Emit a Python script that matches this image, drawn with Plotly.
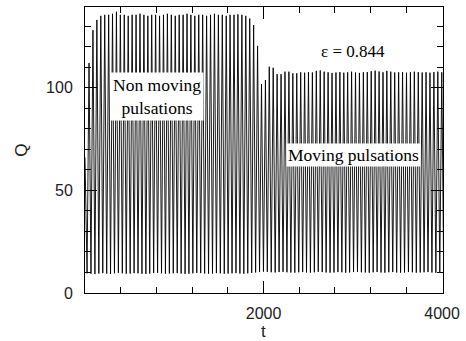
import plotly.graph_objects as go

# Pulse train Q(t): peak times/heights and the minima between pulses
peak_t = [45, 89, 133, 177, 221, 265, 308, 352, 396, 440,
          484, 528, 572, 616, 660, 704, 747, 791, 835, 879,
          923, 967, 1011, 1055, 1099, 1143, 1186, 1230, 1274, 1318,
          1362, 1406, 1450, 1494, 1538, 1582, 1625, 1669, 1713, 1757,
          1801, 1845, 1889, 1933, 1977, 2021, 2064, 2108, 2152, 2196,
          2240, 2284, 2328, 2372, 2416, 2460, 2503, 2547, 2591, 2635,
          2679, 2723, 2767, 2811, 2855, 2899, 2942, 2986, 3030, 3074,
          3118, 3162, 3206, 3250, 3294, 3338, 3381, 3425, 3469, 3513,
          3557, 3601, 3645, 3689, 3733, 3777, 3820, 3864, 3908, 3952,
          3996]
peak_Q = [112, 128, 133, 135, 135.5, 135.5, 136, 137, 135.5, 135.5,
          135, 135.5, 135.5, 136, 135.5, 135, 135.5, 135.5, 135, 135.5,
          136, 135.5, 135, 135.5, 135.5, 136, 135.5, 135, 135.5, 135.5,
          135, 135.5, 136, 135.5, 135.5, 135, 135.5, 135.5, 135.7, 135.5,
          135, 133.7, 130.5, 120.4, 101.8, 103.7, 110.2, 109.7, 106.6, 106.6,
          107.8, 107.8, 107, 107, 107.5, 107.3, 107.6, 107.4, 108.2, 108.4,
          107.8, 107.5, 107.2, 107.4, 107.6, 107.3, 107.5, 107.8, 107.4, 107.2,
          107.5, 107.6, 108.0, 108.3, 107.9, 107.5, 108.2, 107.8, 107.4, 107.5,
          107.6, 107.3, 107.5, 107.8, 107.6, 107.4, 107.5, 107.3, 107.6, 107.8,
          107.5]
trough_t = [23, 67, 111, 155, 199, 243, 286, 330, 374, 418,
            462, 506, 550, 594, 638, 682, 725, 769, 813, 857,
            901, 945, 989, 1033, 1077, 1121, 1164, 1208, 1252, 1296,
            1340, 1384, 1428, 1472, 1516, 1560, 1603, 1647, 1691, 1735,
            1779, 1823, 1867, 1911, 1955, 1999, 2042, 2086, 2130, 2174,
            2218, 2262, 2306, 2350, 2394, 2438, 2481, 2525, 2569, 2613,
            2657, 2701, 2745, 2789, 2833, 2877, 2920, 2964, 3008, 3052,
            3096, 3140, 3184, 3228, 3272, 3316, 3359, 3403, 3447, 3491,
            3535, 3579, 3623, 3667, 3711, 3755, 3798, 3842, 3886, 3930,
            3974, 4018]
trough_Q = [9.6, 9.4, 9.2, 9.5, 9.7, 9.5, 9.3, 9.6, 9.8, 9.6,
            9.4, 9.5, 9.7, 9.6, 9.4, 9.3, 9.5, 9.7, 9.8, 9.6,
            9.4, 9.5, 9.6, 9.7, 9.5, 9.3, 9.4, 9.6, 9.8, 9.7,
            9.5, 9.4, 9.5, 9.7, 9.6, 9.4, 9.5, 9.6, 9.7, 9.5,
            9.4, 9.6, 9.8, 10.0, 10.2, 10.4, 10.3, 10.1, 10.0, 10.2,
            10.3, 10.1, 10.0, 9.9, 10.1, 10.2, 10.0, 9.9, 10.1, 10.3,
            10.2, 10.0, 9.9, 10.0, 10.2, 10.1, 9.9, 10.0, 10.2, 10.3,
            10.1, 10.0, 9.9, 10.1, 10.2, 10.0, 9.9, 10.1, 10.2, 10.0,
            9.9, 10.0, 10.2, 10.1, 9.9, 10.0, 10.1, 10.2, 10.0, 9.9,
            10.1, 10.0]
start_t, start_Q = 0, 66

x_range = [0, 4010]
y_range = [0, 139.3]

# interleave minima and maxima into one polyline
t_vals, q_vals = [start_t], [start_Q]
for i in range(len(peak_t)):
    t_vals += [trough_t[i], peak_t[i]]
    q_vals += [trough_Q[i], peak_Q[i]]
t_vals.append(trough_t[-1])
q_vals.append(trough_Q[-1])

fig = go.Figure()
fig.add_trace(go.Scatter(x=t_vals, y=q_vals, mode="lines",
                         line=dict(color="black", width=0.9), showlegend=False))

sans = "Liberation Sans, Arial, sans-serif"
tick_font = dict(family=sans, size=16, color="#222")
serif = dict(family="Liberation Serif, Times New Roman, serif", size=17.5, color="black")

common = dict(ticks="inside", ticklen=12, tickcolor="black", showline=True, linecolor="black",
              linewidth=1, showgrid=False, zeroline=False, automargin=False)

fig.update_layout(
    width=466, height=341,
    margin=dict(l=85, r=23, t=7, b=48),
    paper_bgcolor="white", plot_bgcolor="white",
    xaxis=dict(range=x_range, tickvals=[0, 2000, 4000], ticktext=["", "2000", "4000"],
               minor=dict(ticks="inside", ticklen=6, dtick=400, tick0=0, tickcolor="black"),
               tickfont=tick_font, ticklabelstandoff=6,
               **common),
    yaxis=dict(range=y_range, tickvals=[0, 50, 100],
               minor=dict(ticks="inside", ticklen=6, dtick=10, tick0=0, tickcolor="black"),
               tickfont=tick_font, ticklabelstandoff=8,
               title=dict(text="Q", font=dict(family=sans, size=17, color="#222"), standoff=14),
               **common),
    # top and right frame with the same inward ticks, no labels
    xaxis2=dict(range=x_range, overlaying="x", side="top", tickvals=[0, 2000, 4000],
                showticklabels=False,
                minor=dict(ticks="inside", ticklen=6, dtick=400, tick0=0, tickcolor="black"),
                **common),
    yaxis2=dict(range=y_range, overlaying="y", side="right", tickvals=[0, 50, 100],
                showticklabels=False,
                minor=dict(ticks="inside", ticklen=6, dtick=10, tick0=0, tickcolor="black"),
                **common),
    annotations=[
        # x-axis title, centred under the 2000 tick
        dict(x=2000, y=-0.133, xref="x", yref="paper", text="t", showarrow=False,
             yanchor="middle", height=16, borderpad=0,
             font=dict(family=sans, size=17, color="#222")),
        dict(x=810, y=95.5, xref="x", yref="y", text="Non moving<br>pulsations", showarrow=False,
             font=serif, bgcolor="white", borderpad=2, align="center"),
        dict(x=3002, y=67.3, xref="x", yref="y", text="Moving pulsations", showarrow=False,
             font=serif, bgcolor="white", borderpad=1),
        dict(x=3005, y=117.5, xref="x", yref="y", text="ε = 0.844", showarrow=False,
             font=dict(family="Liberation Serif, Times New Roman, serif", size=17, color="black")),
    ],
)

# invisible trace to bring the top/right axes into play
fig.add_trace(go.Scatter(x=[None], y=[None], xaxis="x2", yaxis="y2", showlegend=False,
                         hoverinfo="skip"))

fig.write_html("out.html")
